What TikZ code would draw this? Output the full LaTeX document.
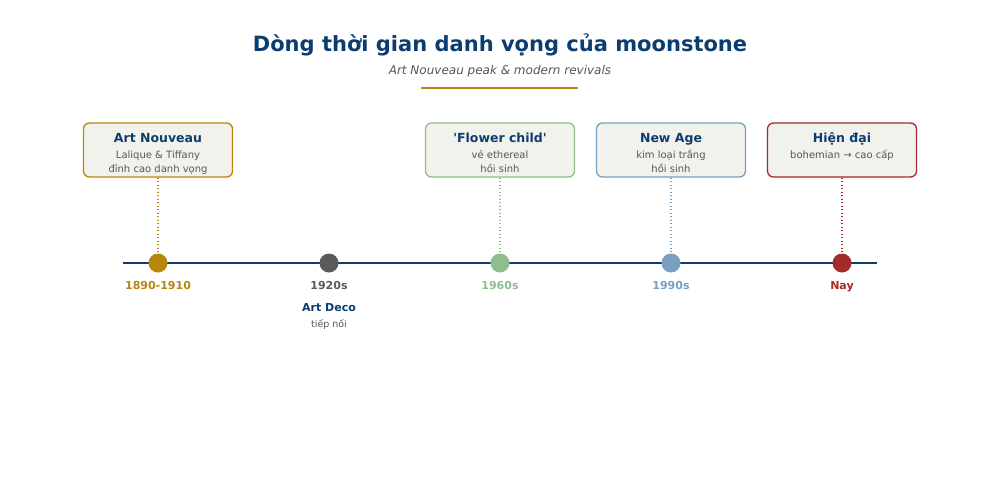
\documentclass[tikz,border=0pt]{standalone}
\usepackage{fontspec}
\setmainfont{DejaVu Sans}
\usepackage{xcolor}
\usepackage{tikz}
\usetikzlibrary{positioning}
\definecolor{titleblue}{RGB}{11, 61, 112}
\definecolor{linegold}{RGB}{184, 134, 11}
\definecolor{decogrey}{RGB}{90, 90, 88}
\definecolor{flowergreen}{RGB}{143, 190, 140}
\definecolor{ageblue}{RGB}{122, 159, 196}
\definecolor{nowred}{RGB}{165, 42, 42}
\definecolor{boxfill}{RGB}{242, 242, 236}
\definecolor{bodygrey}{RGB}{85, 85, 85}
\tikzset{
  era/.style={draw=#1, fill=boxfill, line width=1.3pt, rounded corners=6pt,
    minimum width=149pt, minimum height=54pt, inner sep=0pt},
  eratitle/.style={anchor=base, font=\fontsize{12.5}{14}\selectfont\bfseries, text=titleblue},
  erabody/.style={anchor=base, font=\fontsize{10}{14}\selectfont, text=bodygrey, align=center},
  yearlabel/.style={anchor=base, font=\fontsize{11}{13}\selectfont\bfseries, text=#1},
  dot/.style={circle, fill=#1, minimum size=19pt, inner sep=0pt},
  stem/.style={draw=#1, line width=1.3pt, dash pattern=on 1.3pt off 2.2pt}
}

\begin{document}
\begin{tikzpicture}[x=1pt, y=-1pt]
  \useasboundingbox (0,0) rectangle (1000,491);
  % heading
  \node[font=\fontsize{21}{24}\selectfont\bfseries, text=titleblue] (title) at (500,45) {Dòng thời gian danh vọng của moonstone};
  \node[font=\fontsize{12}{14}\selectfont\itshape, text=bodygrey] (subtitle) at (500,71) {Art Nouveau peak \& modern revivals};
  \coordinate (ruleL) at (421,88);
  \coordinate (ruleR) at (578,88);
  \draw[linegold, line width=2pt] (ruleL) -- (ruleR);
  % axis
  \coordinate (axisL) at (123,263);
  \coordinate (axisR) at (877,263);
  \draw[titleblue, line width=2pt] (axisL) -- (axisR);
  \foreach \x/\col/\year/\id in {158/linegold/1890-1910/nouveau, 329/decogrey/1920s/deco,
      500/flowergreen/1960s/flower, 671/ageblue/1990s/age, 842/nowred/Nay/now} {
    \node[dot=\col] (dot-\id) at (\x,263) {};
    \node[yearlabel=\col] (year-\id) at (\x,289) {\year};
  }
  % boxes above
  \node[era=linegold] (box-nouveau) at (158,150) {};
  \node[eratitle] (head-nouveau) at (158,142) {Art Nouveau};
  \node[erabody] (text-nouveau) at (158,172) {Lalique \& Tiffany\\đỉnh cao danh vọng};
  \node[era=flowergreen] (box-flower) at (500,150) {};
  \node[eratitle] (head-flower) at (500,142) {\textquotesingle Flower child\textquotesingle};
  \node[erabody] (text-flower) at (500,172) {vẻ ethereal\\hồi sinh};
  \node[era=ageblue] (box-age) at (671,150) {};
  \node[eratitle] (head-age) at (671,142) {New Age};
  \node[erabody] (text-age) at (671,172) {kim loại trắng\\hồi sinh};
  \node[era=nowred] (box-now) at (842,150) {};
  \node[eratitle] (head-now) at (842,142) {Hiện đại};
  \node[erabody] (text-now) at (842,158) {bohemian → cao cấp};
  \foreach \id/\col in {nouveau/linegold, flower/flowergreen, age/ageblue, now/nowred}
    \draw[stem=\col] (box-\id.south) -- (dot-\id.north);
  % label below
  \node[eratitle, font=\fontsize{11}{13}\selectfont\bfseries] (head-deco) at (329,311) {Art Deco};
  \node[erabody, font=\fontsize{9.5}{11}\selectfont] (text-deco) at (329,327) {tiếp nối};
\end{tikzpicture}
\end{document}
